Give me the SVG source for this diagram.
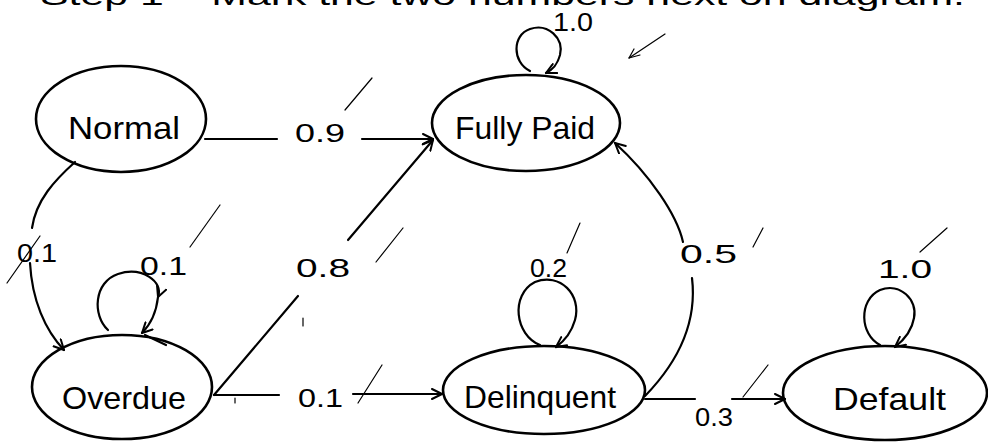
<svg xmlns="http://www.w3.org/2000/svg" width="988" height="442" viewBox="0 0 988 442">
  <defs>
    <style>
      .bg { fill: #ffffff; }
      .node { fill: none; stroke: #000; stroke-width: 2.6; }
      .edge { fill: none; stroke: #000; stroke-width: 2.2; stroke-linecap: round; }
      .tick { fill: none; stroke: #000; stroke-width: 1.2; stroke-linecap: round; }
      .label { font-family: "Liberation Sans", "DejaVu Sans", sans-serif; font-size: 32px; fill: #000; }
      .prob { font-family: "Liberation Sans", "DejaVu Sans", sans-serif; font-size: 25px; fill: #000; }
      .note { font-family: "Liberation Sans", "DejaVu Sans", sans-serif; font-size: 28px; fill: #000; }
    </style>
    <marker id="arr" viewBox="0 0 12 12" refX="11" refY="6" markerWidth="12" markerHeight="12" markerUnits="userSpaceOnUse" orient="auto">
      <path d="M1,1 L11,6 L1,11" fill="none" stroke="#000" stroke-width="2" stroke-linecap="round" stroke-linejoin="round"/>
    </marker>
  </defs>

  <rect class="bg" x="0" y="0" width="988" height="442"/>

  <!-- heading line, running off the top edge -->
  <text class="note" x="40" y="5" textLength="925" lengthAdjust="spacingAndGlyphs">Step 1 – Mark the two numbers next on diagram.</text>

  <!-- states -->
  <g id="normal">
    <ellipse class="node" cx="121" cy="119" rx="85" ry="53"/>
    <text class="label" x="68" y="139" textLength="112" lengthAdjust="spacingAndGlyphs">Normal</text>
  </g>
  <g id="fully-paid">
    <ellipse class="node" cx="526" cy="123" rx="94" ry="48"/>
    <text class="label" x="455" y="139" textLength="140" lengthAdjust="spacingAndGlyphs">Fully Paid</text>
  </g>
  <g id="overdue">
    <ellipse class="node" cx="122" cy="387" rx="90" ry="52"/>
    <text class="label" x="62" y="409" textLength="124" lengthAdjust="spacingAndGlyphs">Overdue</text>
  </g>
  <g id="delinquent">
    <ellipse class="node" cx="544" cy="390" rx="101" ry="44"/>
    <text class="label" x="464" y="408" textLength="152" lengthAdjust="spacingAndGlyphs">Delinquent</text>
  </g>
  <g id="default">
    <ellipse class="node" cx="885" cy="393" rx="102" ry="47"/>
    <text class="label" x="833" y="410" textLength="113" lengthAdjust="spacingAndGlyphs">Default</text>
  </g>

  <!-- transitions -->
  <g id="connectors">
    <!-- Normal -> Fully Paid -->
    <line class="edge" x1="205" y1="139" x2="277" y2="139"/>
    <line class="edge" x1="362" y1="139" x2="433" y2="139" marker-end="url(#arr)"/>
    <!-- Normal -> Overdue -->
    <path class="edge" d="M75,162 C55,180 36,200 32,228"/>
    <path class="edge" d="M30,263 C32,300 45,330 64,350" marker-end="url(#arr)"/>
    <!-- Overdue self-loop -->
    <path class="edge" d="M108,330 C92,315 94,282 118,274 C142,266 164,282 158,297" marker-end="url(#arr)"/>
    <path class="edge" d="M158,297 C156,315 150,325 142,333" marker-end="url(#arr)"/>
    <path class="edge" d="M145,335 L166,345"/>
    <!-- Overdue -> Fully Paid -->
    <line class="edge" x1="214" y1="395" x2="298" y2="296"/>
    <line class="edge" x1="348" y1="240" x2="433" y2="140" marker-end="url(#arr)"/>
    <!-- Overdue -> Delinquent -->
    <line class="edge" x1="214" y1="395" x2="279" y2="395"/>
    <line class="edge" x1="353" y1="394" x2="442" y2="394" marker-end="url(#arr)"/>
    <!-- Fully Paid self-loop -->
    <path class="edge" d="M530,71 C512,62 512,35 530,29 C548,23 564,38 560,55 C557,66 552,70 546,73" marker-end="url(#arr)"/>
    <!-- Delinquent self-loop -->
    <path class="edge" d="M540,345 C515,335 510,295 535,282 C560,272 582,295 575,320 C571,334 563,342 556,347" marker-end="url(#arr)"/>
    <!-- Delinquent -> Fully Paid -->
    <path class="edge" d="M645,396 C680,360 697,320 692,278"/>
    <path class="edge" d="M683,242 C677,215 650,175 615,143" marker-end="url(#arr)"/>
    <!-- Delinquent -> Default -->
    <line class="edge" x1="645" y1="399" x2="695" y2="399"/>
    <line class="edge" x1="732" y1="399" x2="785" y2="399" marker-end="url(#arr)"/>
    <!-- Default self-loop -->
    <path class="edge" d="M880,345 C860,335 858,300 880,290 C900,282 918,300 914,318 C912,330 904,340 895,347" marker-end="url(#arr)"/>
  </g>

  <!-- transition probabilities -->
  <g id="probabilities">
    <text class="prob" x="295" y="142" textLength="50" lengthAdjust="spacingAndGlyphs">0.9</text>
    <text class="prob" x="17" y="262" textLength="40" lengthAdjust="spacingAndGlyphs">0.1</text>
    <text class="prob" x="140" y="275" textLength="47" lengthAdjust="spacingAndGlyphs">0.1</text>
    <text class="prob" x="296" y="277" font-size="30" textLength="54" lengthAdjust="spacingAndGlyphs">0.8</text>
    <text class="prob" x="298" y="407" textLength="45" lengthAdjust="spacingAndGlyphs">0.1</text>
    <text class="prob" x="553" y="31" textLength="40" lengthAdjust="spacingAndGlyphs">1.0</text>
    <text class="prob" x="530" y="277" textLength="37" lengthAdjust="spacingAndGlyphs">0.2</text>
    <text class="prob" x="680" y="263" textLength="57" lengthAdjust="spacingAndGlyphs">0.5</text>
    <text class="prob" x="695" y="426" font-size="22" textLength="38" lengthAdjust="spacingAndGlyphs">0.3</text>
    <text class="prob" x="878" y="278" textLength="54" lengthAdjust="spacingAndGlyphs">1.0</text>
  </g>

  <!-- check marks -->
  <g id="checks">
    <line class="tick" x1="665" y1="34" x2="629" y2="58"/>
    <path class="tick" d="M629,58 L640,55 M629,58 L634,49"/>
    <line class="tick" x1="372" y1="78" x2="345" y2="110"/>
    <line class="tick" x1="220" y1="205" x2="190" y2="247"/>
    <line class="tick" x1="40" y1="236" x2="7" y2="283"/>
    <line class="tick" x1="403" y1="228" x2="376" y2="262"/>
    <line class="tick" x1="303" y1="318" x2="303" y2="326"/>
    <line class="tick" x1="382" y1="365" x2="358" y2="403"/>
    <line class="tick" x1="235" y1="398" x2="235" y2="403"/>
    <line class="tick" x1="580" y1="223" x2="567" y2="253"/>
    <line class="tick" x1="763" y1="228" x2="753" y2="247"/>
    <line class="tick" x1="768" y1="365" x2="743" y2="397"/>
    <line class="tick" x1="947" y1="228" x2="920" y2="252"/>
  </g>
</svg>
